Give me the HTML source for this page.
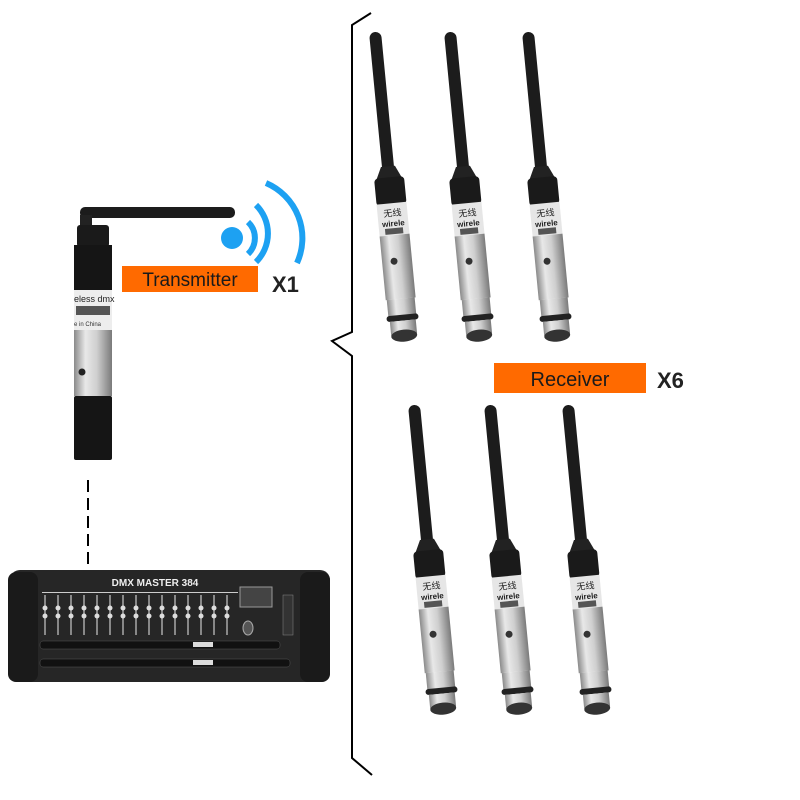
<!DOCTYPE html>
<html><head><meta charset="utf-8"><style>
html,body{margin:0;padding:0;background:#fff;width:800px;height:800px;overflow:hidden}
svg{display:block}
</style></head><body>
<svg width="800" height="800" viewBox="0 0 800 800" xmlns="http://www.w3.org/2000/svg">
<defs>
<linearGradient id="silver" x1="0" x2="1" y1="0" y2="0">
<stop offset="0" stop-color="#8a8a8a"/><stop offset="0.3" stop-color="#e8e8e8"/><stop offset="0.6" stop-color="#cfcfcf"/><stop offset="1" stop-color="#7a7a7a"/></linearGradient>
<g id="rx">
<rect x="-6" y="0" width="12" height="150" rx="6" fill="#1c1c1c"/>
<path d="M-7 135 L7 135 L14 150 L-14 150Z" fill="#222"/>
<rect x="-15" y="146" width="30" height="28" rx="4" fill="#1a1a1a"/>
<rect x="-15" y="172" width="30" height="32" fill="#e6e6e6"/>
<text x="0" y="185" font-family="Noto Sans CJK SC, sans-serif" font-size="9" text-anchor="middle" fill="#222">无线</text>
<text x="0" y="195" font-family="Liberation Sans, sans-serif" font-size="8" font-weight="bold" text-anchor="middle" fill="#222">wirele</text>
<rect x="-9" y="197" width="18" height="6" fill="#555"/>
<rect x="-15" y="204" width="30" height="64" fill="url(#silver)"/>
<circle cx="-3" cy="230" r="3.5" fill="#333"/>
<rect x="-14" y="268" width="28" height="20" fill="url(#silver)"/>
<rect x="-16" y="284" width="32" height="6" rx="3" fill="#222"/>
<rect x="-13" y="290" width="26" height="14" fill="url(#silver)"/>
<ellipse cx="0" cy="305" rx="13" ry="6" fill="#333"/>
</g>
</defs>

<polyline points="371,13 352,25 352,332 332,341 352,356 352,758 372,775" fill="none" stroke="#000" stroke-width="2"/>

<g transform="translate(375,32) rotate(-5.5)"><use href="#rx"/></g>
<g transform="translate(450,32) rotate(-5.5)"><use href="#rx"/></g>
<g transform="translate(528,32) rotate(-5.5)"><use href="#rx"/></g>
<g transform="translate(414,405) rotate(-5.5)"><use href="#rx"/></g>
<g transform="translate(490,405) rotate(-5.5)"><use href="#rx"/></g>
<g transform="translate(568,405) rotate(-5.5)"><use href="#rx"/></g>

<rect x="494" y="363" width="152" height="30" fill="#ff6a00"/>
<text x="570" y="386" font-family="Liberation Sans, sans-serif" font-size="20" text-anchor="middle" fill="#1a1a1a">Receiver</text>
<text x="657" y="388" font-family="Liberation Sans, sans-serif" font-size="22" font-weight="bold" fill="#222">X6</text>

<rect x="80" y="207" width="155" height="11" rx="5" fill="#1c1c1c"/>
<rect x="80" y="215" width="12" height="14" fill="#222"/>
<rect x="77" y="225" width="32" height="22" rx="3" fill="#1a1a1a"/>
<rect x="74" y="245" width="38" height="46" fill="#151515"/>
<rect x="74" y="290" width="38" height="40" fill="#ededed"/>
<text x="74" y="302" font-family="Liberation Sans, sans-serif" font-size="9" fill="#222">eless dmx</text>
<rect x="76" y="306" width="34" height="9" fill="#555"/>
<text x="74" y="326" font-family="Liberation Sans, sans-serif" font-size="6" fill="#333">e in China</text>
<rect x="74" y="330" width="38" height="66" fill="url(#silver)"/>
<circle cx="82" cy="372" r="3.5" fill="#222"/>
<rect x="74" y="396" width="38" height="64" rx="2" fill="#151515"/>

<circle cx="232" cy="238" r="11" fill="#1da1f2"/>
<path d="M248 222 A22 22 0 0 1 248 254" fill="none" stroke="#1da1f2" stroke-width="6"/>
<path d="M256 205 A40 40 0 0 1 256 262" fill="none" stroke="#1da1f2" stroke-width="6"/>
<path d="M266 183 A60 60 0 0 1 297 263" fill="none" stroke="#1da1f2" stroke-width="6"/>

<rect x="122" y="266" width="136" height="26" fill="#ff6a00"/>
<text x="190" y="286" font-family="Liberation Sans, sans-serif" font-size="19" text-anchor="middle" fill="#1a1a1a">Transmitter</text>
<text x="272" y="292" font-family="Liberation Sans, sans-serif" font-size="22" font-weight="bold" fill="#222">X1</text>

<line x1="88" y1="480" x2="88" y2="565" stroke="#000" stroke-width="2" stroke-dasharray="12,6"/>

<rect x="10" y="570" width="320" height="112" rx="10" fill="#262626"/>
<rect x="8" y="572" width="30" height="110" rx="8" fill="#1a1a1a"/>
<rect x="300" y="572" width="30" height="110" rx="8" fill="#1a1a1a"/>
<text x="155" y="586" font-family="Liberation Sans, sans-serif" font-size="10" font-weight="bold" text-anchor="middle" fill="#eee">DMX MASTER 384</text>
<rect x="42" y="592" width="196" height="1" fill="#ccc"/>
<g fill="#888">
<rect x="44" y="595" width="2" height="40"/><rect x="57" y="595" width="2" height="40"/><rect x="70" y="595" width="2" height="40"/><rect x="83" y="595" width="2" height="40"/><rect x="96" y="595" width="2" height="40"/><rect x="109" y="595" width="2" height="40"/><rect x="122" y="595" width="2" height="40"/><rect x="135" y="595" width="2" height="40"/><rect x="148" y="595" width="2" height="40"/><rect x="161" y="595" width="2" height="40"/><rect x="174" y="595" width="2" height="40"/><rect x="187" y="595" width="2" height="40"/><rect x="200" y="595" width="2" height="40"/><rect x="213" y="595" width="2" height="40"/><rect x="226" y="595" width="2" height="40"/>
</g>
<g fill="#ddd">
<circle cx="45" cy="608" r="2.5"/><circle cx="58" cy="608" r="2.5"/><circle cx="71" cy="608" r="2.5"/><circle cx="84" cy="608" r="2.5"/><circle cx="97" cy="608" r="2.5"/><circle cx="110" cy="608" r="2.5"/><circle cx="123" cy="608" r="2.5"/><circle cx="136" cy="608" r="2.5"/><circle cx="149" cy="608" r="2.5"/><circle cx="162" cy="608" r="2.5"/><circle cx="175" cy="608" r="2.5"/><circle cx="188" cy="608" r="2.5"/><circle cx="201" cy="608" r="2.5"/><circle cx="214" cy="608" r="2.5"/><circle cx="227" cy="608" r="2.5"/>
<circle cx="45" cy="616" r="2.5"/><circle cx="58" cy="616" r="2.5"/><circle cx="71" cy="616" r="2.5"/><circle cx="84" cy="616" r="2.5"/><circle cx="97" cy="616" r="2.5"/><circle cx="110" cy="616" r="2.5"/><circle cx="123" cy="616" r="2.5"/><circle cx="136" cy="616" r="2.5"/><circle cx="149" cy="616" r="2.5"/><circle cx="162" cy="616" r="2.5"/><circle cx="175" cy="616" r="2.5"/><circle cx="188" cy="616" r="2.5"/><circle cx="201" cy="616" r="2.5"/><circle cx="214" cy="616" r="2.5"/><circle cx="227" cy="616" r="2.5"/>
</g>
<rect x="240" y="587" width="32" height="20" fill="#444" stroke="#999" stroke-width="1"/>
<ellipse cx="248" cy="628" rx="5" ry="7" fill="#555" stroke="#aaa"/>
<rect x="283" y="595" width="10" height="40" fill="#333" stroke="#888" stroke-width="0.5"/>
<g fill="#111" stroke="#555" stroke-width="0.5">
<rect x="40" y="641" width="240" height="8" rx="3"/>
<rect x="40" y="659" width="250" height="8" rx="3"/>
</g>
<rect x="193" y="642" width="20" height="5" fill="#ddd"/>
<rect x="193" y="660" width="20" height="5" fill="#ddd"/>
</svg>
</body></html>
